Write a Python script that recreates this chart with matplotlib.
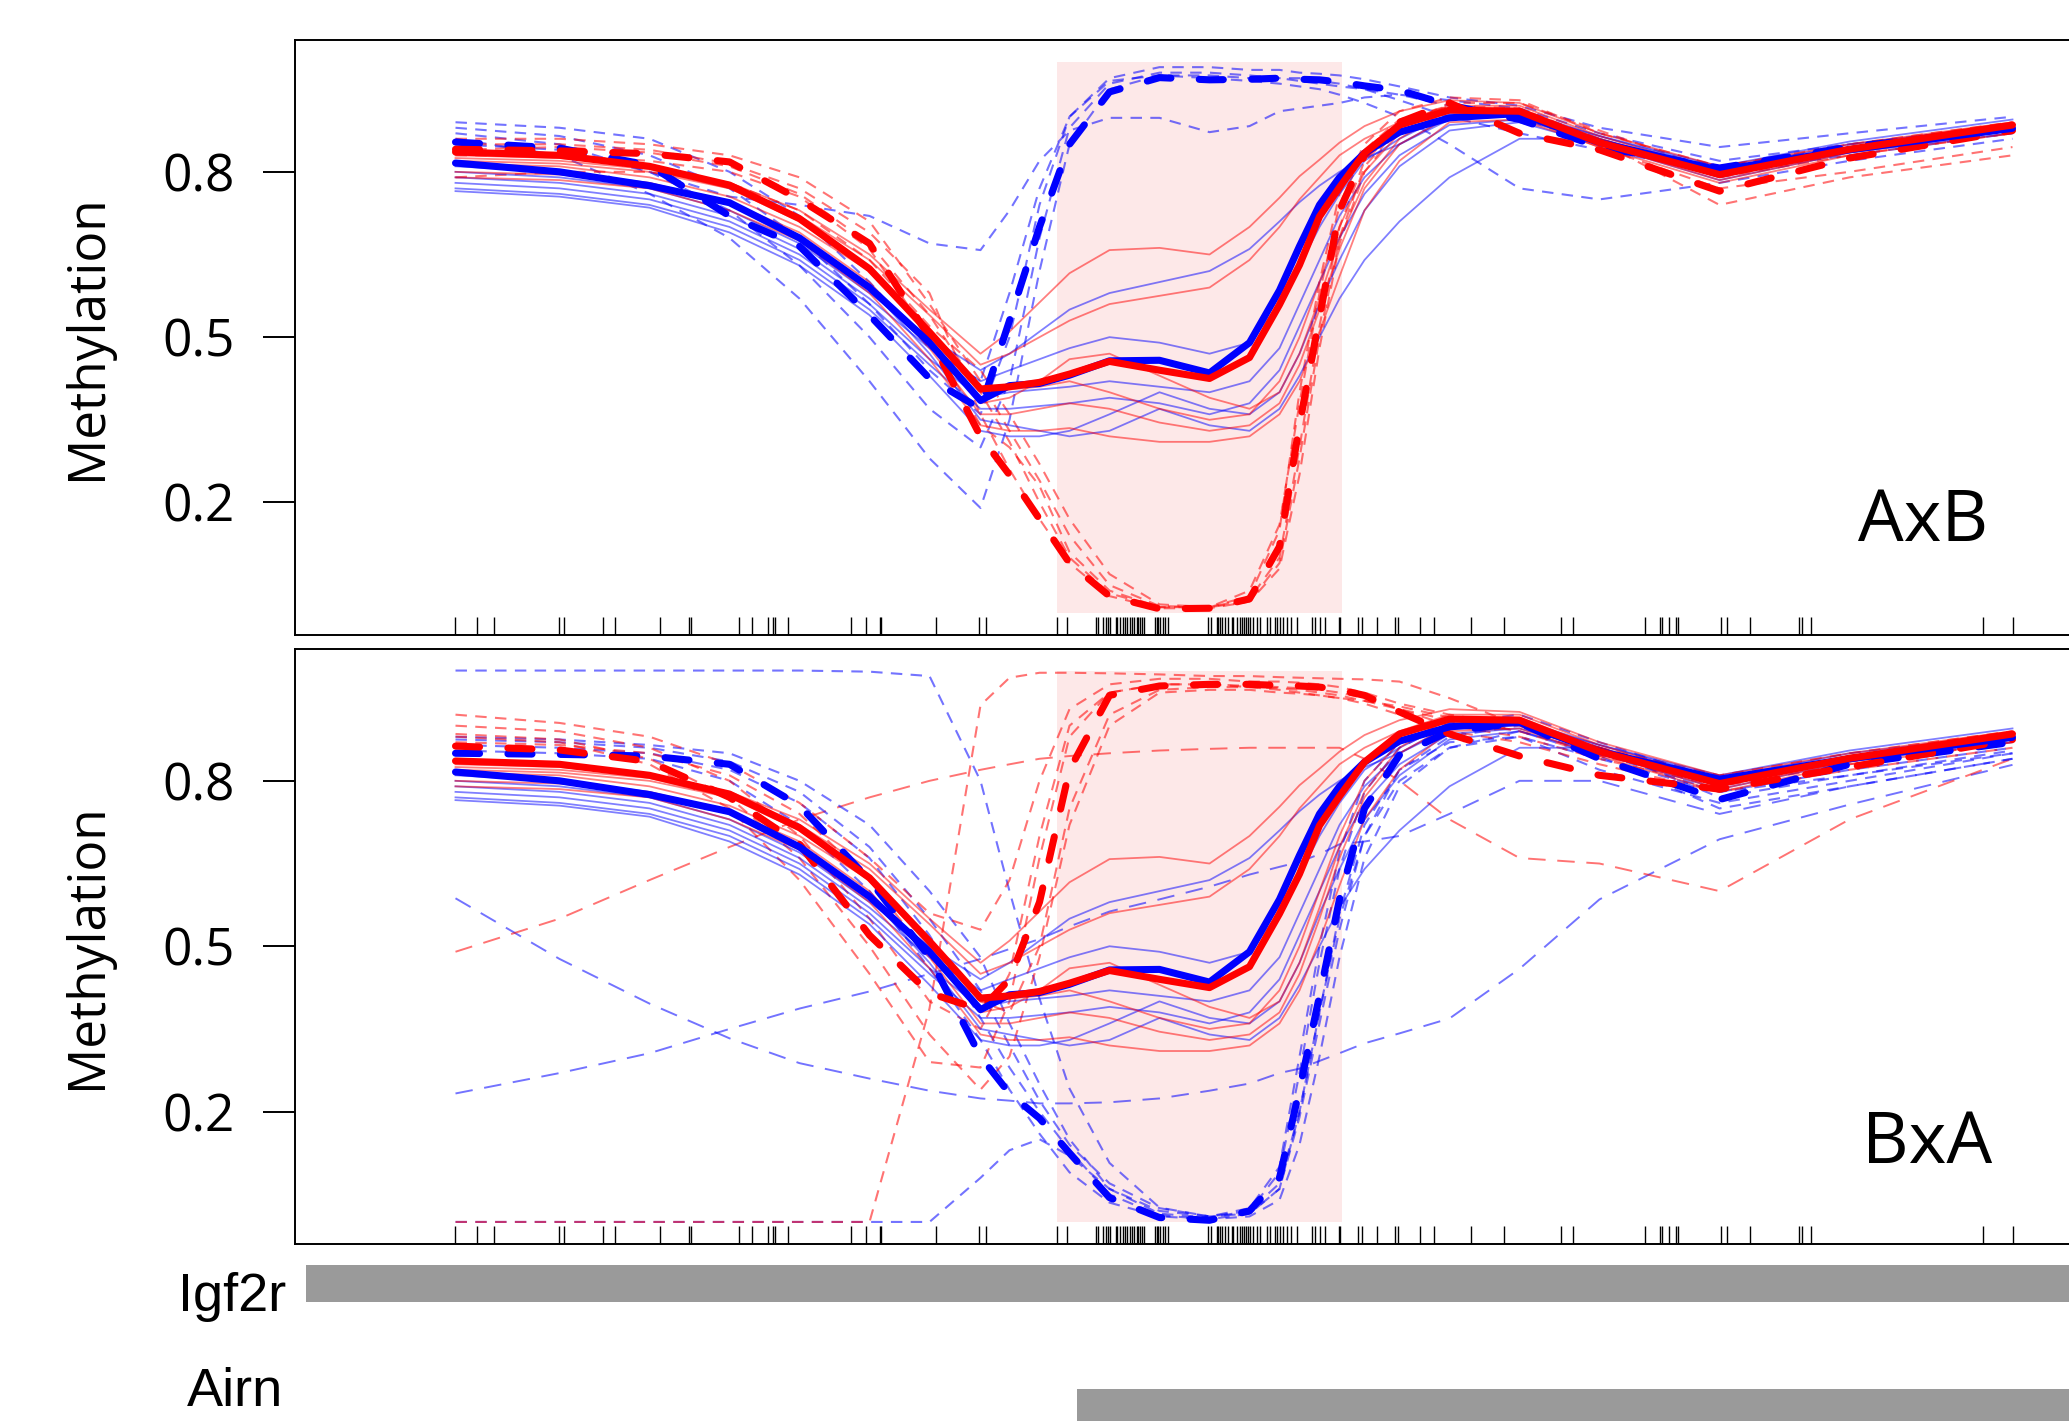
import matplotlib
matplotlib.use("Agg")
import matplotlib.pyplot as plt
import matplotlib.transforms as mtransforms
from matplotlib.patches import Rectangle

# ---------------------------------------------------------------------------
# Data: smoothed methylation along the Igf2r / Airn region (bp offsets)
# ---------------------------------------------------------------------------
POS = [160, 264, 354, 434, 504, 574, 634, 685, 714, 744, 774, 814, 864, 914,
       954, 984, 1004, 1024, 1044, 1069, 1104, 1154, 1224, 1304, 1424, 1554, 1717]

# CpG sites (rug)
CPG = [160, 182, 199, 263, 268, 307, 319, 364, 393, 395, 443, 456, 472, 477, 479,
       492, 555, 570, 584, 585, 640, 683, 690, 761, 771,
       800, 802, 807, 810, 812, 814, 820, 821, 824, 827, 829, 831, 834, 836, 838,
       841, 842, 844, 846, 848,
       859, 861, 862, 864, 867, 869, 872,
       912, 915, 921, 922, 924, 926, 929, 932, 936, 937, 941, 944, 946, 948, 950,
       952, 954, 957, 961, 964, 971, 974, 979, 981, 984, 987, 991, 995, 1001,
       1016, 1019, 1024, 1029, 1043, 1044, 1062, 1066, 1081, 1099, 1102,
       1124, 1138, 1175, 1208, 1265, 1277, 1349, 1364, 1366, 1373, 1380, 1382,
       1425, 1431, 1454, 1503, 1506, 1515, 1687, 1717]

DMR = (761, 1046)

GENES = ["Igf2r", "Airn"]
GENE_START = [11, 781]
GENE_END = [1900, 1900]

# Reference (solid) samples, shared by both crosses
RED_MEAN = [0.836, 0.83, 0.81, 0.776, 0.715, 0.624, 0.509, 0.406, 0.41, 0.418,
            0.433, 0.456, 0.44, 0.425, 0.463, 0.559, 0.631, 0.719, 0.772, 0.834,
            0.885, 0.912, 0.91, 0.853, 0.795, 0.841, 0.885]
BLUE_MEAN = [0.816, 0.80, 0.775, 0.744, 0.68, 0.59, 0.49, 0.385, 0.412, 0.416,
             0.431, 0.457, 0.458, 0.435, 0.49, 0.585, 0.665, 0.74, 0.79, 0.834,
             0.872, 0.898, 0.906, 0.853, 0.803, 0.84, 0.879]

RED_SAMPLES = [
    [0.83, 0.825, 0.81, 0.78, 0.73, 0.65, 0.55, 0.47, 0.51, 0.563, 0.616, 0.658, 0.662, 0.65,
     0.70, 0.753, 0.792, 0.822, 0.853, 0.883, 0.91, 0.93, 0.925, 0.87, 0.81, 0.85, 0.89],
    [0.82, 0.815, 0.80, 0.77, 0.72, 0.64, 0.54, 0.45, 0.47, 0.50, 0.53, 0.56, 0.575, 0.59,
     0.64, 0.70, 0.75, 0.79, 0.83, 0.86, 0.89, 0.92, 0.92, 0.865, 0.80, 0.845, 0.885],
    [0.815, 0.81, 0.79, 0.755, 0.70, 0.62, 0.51, 0.40, 0.405, 0.41, 0.42, 0.40, 0.37, 0.35,
     0.36, 0.42, 0.50, 0.60, 0.70, 0.80, 0.87, 0.91, 0.91, 0.86, 0.79, 0.84, 0.88],
    [0.80, 0.795, 0.78, 0.745, 0.69, 0.60, 0.48, 0.36, 0.36, 0.37, 0.38, 0.37, 0.345, 0.33,
     0.34, 0.38, 0.45, 0.55, 0.66, 0.77, 0.85, 0.90, 0.90, 0.85, 0.785, 0.835, 0.875],
    [0.79, 0.785, 0.77, 0.73, 0.675, 0.58, 0.46, 0.34, 0.33, 0.33, 0.335, 0.32, 0.31, 0.31,
     0.32, 0.36, 0.42, 0.51, 0.61, 0.73, 0.82, 0.89, 0.895, 0.845, 0.78, 0.83, 0.87],
    [0.825, 0.82, 0.805, 0.77, 0.71, 0.62, 0.50, 0.38, 0.39, 0.42, 0.46, 0.47, 0.43, 0.39,
     0.37, 0.40, 0.47, 0.57, 0.68, 0.78, 0.86, 0.915, 0.915, 0.86, 0.795, 0.84, 0.885],
]
BLUE_SAMPLES = [
    [0.80, 0.79, 0.77, 0.73, 0.67, 0.58, 0.50, 0.44, 0.47, 0.51, 0.55, 0.58, 0.60, 0.62,
     0.66, 0.71, 0.745, 0.775, 0.80, 0.825, 0.85, 0.895, 0.905, 0.865, 0.81, 0.855, 0.895],
    [0.79, 0.78, 0.76, 0.72, 0.66, 0.57, 0.48, 0.42, 0.44, 0.46, 0.48, 0.50, 0.49, 0.47,
     0.49, 0.56, 0.63, 0.70, 0.76, 0.82, 0.86, 0.905, 0.91, 0.865, 0.805, 0.85, 0.885],
    [0.78, 0.77, 0.75, 0.71, 0.65, 0.56, 0.46, 0.39, 0.40, 0.405, 0.41, 0.42, 0.41, 0.40,
     0.42, 0.48, 0.56, 0.64, 0.72, 0.79, 0.85, 0.90, 0.905, 0.86, 0.80, 0.845, 0.88],
    [0.77, 0.76, 0.74, 0.70, 0.64, 0.55, 0.45, 0.37, 0.37, 0.375, 0.38, 0.39, 0.38, 0.36,
     0.38, 0.44, 0.52, 0.60, 0.68, 0.76, 0.83, 0.885, 0.895, 0.855, 0.79, 0.84, 0.875],
    [0.765, 0.755, 0.735, 0.69, 0.63, 0.54, 0.43, 0.33, 0.32, 0.32, 0.33, 0.36, 0.40, 0.37,
     0.36, 0.40, 0.47, 0.56, 0.64, 0.73, 0.81, 0.875, 0.89, 0.85, 0.785, 0.835, 0.87],
    [0.81, 0.80, 0.78, 0.74, 0.68, 0.59, 0.47, 0.35, 0.34, 0.33, 0.32, 0.33, 0.37, 0.34,
     0.33, 0.37, 0.43, 0.50, 0.57, 0.64, 0.71, 0.79, 0.86, 0.86, 0.80, 0.84, 0.875],
]

# AxB cross: allele-specific (dashed) profiles
AXB_RED_MEAN = [0.841, 0.838, 0.833, 0.818, 0.75, 0.67, 0.50, 0.32, 0.25, 0.17,
                0.09, 0.03, 0.007, 0.008, 0.025, 0.12, 0.341, 0.536, 0.73, 0.83,
                0.89, 0.925, 0.87, 0.84, 0.765, 0.825, 0.875]
AXB_BLUE_MEAN = [0.854, 0.843, 0.812, 0.72, 0.665, 0.54, 0.425, 0.37, 0.53, 0.70,
                 0.85, 0.945, 0.971, 0.967, 0.968, 0.97, 0.968, 0.967, 0.963, 0.956,
                 0.948, 0.921, 0.895, 0.845, 0.807, 0.845, 0.879]
AXB_RED_ALLELES = [
    [0.86, 0.86, 0.85, 0.83, 0.79, 0.71, 0.56, 0.42, 0.33, 0.24, 0.14, 0.05, 0.012, 0.01,
     0.03, 0.15, 0.40, 0.60, 0.76, 0.85, 0.91, 0.935, 0.93, 0.87, 0.81, 0.85, 0.89],
    [0.85, 0.85, 0.84, 0.815, 0.77, 0.69, 0.58, 0.36, 0.26, 0.17, 0.09, 0.03, 0.008, 0.008,
     0.02, 0.08, 0.25, 0.48, 0.67, 0.80, 0.88, 0.92, 0.915, 0.86, 0.79, 0.83, 0.87],
    [0.83, 0.83, 0.82, 0.80, 0.755, 0.66, 0.50, 0.34, 0.30, 0.23, 0.11, 0.04, 0.01, 0.01,
     0.025, 0.10, 0.30, 0.52, 0.70, 0.82, 0.88, 0.91, 0.90, 0.845, 0.77, 0.80, 0.845],
    [0.79, 0.80, 0.80, 0.78, 0.73, 0.64, 0.52, 0.44, 0.36, 0.27, 0.17, 0.07, 0.015, 0.01,
     0.04, 0.16, 0.38, 0.58, 0.74, 0.84, 0.895, 0.92, 0.91, 0.855, 0.74, 0.79, 0.83],
    [0.84, 0.845, 0.835, 0.81, 0.76, 0.67, 0.54, 0.40, 0.31, 0.20, 0.10, 0.035, 0.01, 0.01,
     0.02, 0.09, 0.28, 0.50, 0.68, 0.81, 0.88, 0.925, 0.925, 0.875, 0.80, 0.84, 0.88],
]
AXB_BLUE_ALLELES = [
    [0.89, 0.88, 0.86, 0.80, 0.72, 0.60, 0.48, 0.42, 0.58, 0.77, 0.90, 0.97, 0.99, 0.99,
     0.985, 0.985, 0.98, 0.978, 0.975, 0.968, 0.955, 0.935, 0.92, 0.88, 0.845, 0.87, 0.90],
    [0.85, 0.84, 0.80, 0.755, 0.74, 0.72, 0.67, 0.658, 0.73, 0.82, 0.875, 0.898, 0.898, 0.872,
     0.883, 0.91, 0.915, 0.92, 0.925, 0.935, 0.94, 0.93, 0.915, 0.87, 0.82, 0.85, 0.885],
    [0.86, 0.83, 0.76, 0.68, 0.57, 0.42, 0.28, 0.19, 0.35, 0.62, 0.85, 0.95, 0.975, 0.975,
     0.97, 0.97, 0.965, 0.96, 0.955, 0.95, 0.93, 0.90, 0.87, 0.84, 0.80, 0.83, 0.87],
    [0.87, 0.85, 0.80, 0.73, 0.63, 0.50, 0.37, 0.30, 0.42, 0.68, 0.88, 0.96, 0.98, 0.98,
     0.975, 0.97, 0.97, 0.965, 0.96, 0.95, 0.94, 0.92, 0.90, 0.85, 0.81, 0.845, 0.88],
    [0.88, 0.865, 0.83, 0.77, 0.68, 0.56, 0.44, 0.36, 0.50, 0.74, 0.90, 0.965, 0.975, 0.97,
     0.965, 0.96, 0.955, 0.95, 0.94, 0.925, 0.90, 0.85, 0.77, 0.75, 0.78, 0.82, 0.86],
]

# BxA cross: allele-specific (dashed) profiles
BXA_RED_MEAN = [0.863, 0.856, 0.835, 0.77, 0.685, 0.52, 0.415, 0.385, 0.44, 0.58,
                0.82, 0.955, 0.972, 0.975, 0.975, 0.973, 0.972, 0.97, 0.965, 0.955,
                0.925, 0.885, 0.845, 0.81, 0.785, 0.825, 0.875]
BXA_BLUE_MEAN = [0.85, 0.848, 0.845, 0.83, 0.755, 0.62, 0.48, 0.30, 0.233, 0.188,
                 0.125, 0.044, 0.008, 0.003, 0.02, 0.08, 0.24, 0.41, 0.585, 0.75,
                 0.847, 0.89, 0.905, 0.84, 0.766, 0.83, 0.87]
BXA_RED_ALLELES = [
    [0.92, 0.905, 0.88, 0.83, 0.76, 0.66, 0.56, 0.53, 0.62, 0.80, 0.93, 0.975, 0.985, 0.985,
     0.98, 0.98, 0.978, 0.975, 0.97, 0.96, 0.94, 0.92, 0.90, 0.86, 0.81, 0.85, 0.89],
    [0.90, 0.89, 0.86, 0.80, 0.70, 0.55, 0.40, 0.35, 0.45, 0.70, 0.90, 0.96, 0.975, 0.975,
     0.972, 0.97, 0.968, 0.965, 0.96, 0.95, 0.93, 0.90, 0.88, 0.84, 0.79, 0.83, 0.87],
    [0.88, 0.87, 0.83, 0.75, 0.62, 0.45, 0.29, 0.28, 0.40, 0.66, 0.88, 0.96, 0.975, 0.975,
     0.97, 0.965, 0.96, 0.955, 0.95, 0.94, 0.92, 0.89, 0.87, 0.83, 0.78, 0.82, 0.86],
    [0.87, 0.865, 0.85, 0.81, 0.74, 0.62, 0.48, 0.40, 0.38, 0.50, 0.75, 0.92, 0.965, 0.97,
     0.97, 0.968, 0.965, 0.96, 0.955, 0.945, 0.93, 0.91, 0.89, 0.85, 0.80, 0.84, 0.88],
    [0.885, 0.875, 0.84, 0.77, 0.66, 0.50, 0.34, 0.24, 0.30, 0.48, 0.72, 0.90, 0.96, 0.965,
     0.965, 0.96, 0.958, 0.955, 0.95, 0.945, 0.935, 0.915, 0.89, 0.845, 0.80, 0.835, 0.875],
    [0.0, 0.0, 0.0, 0.0, 0.0, 0.0, 0.387, 0.937, 0.987, 0.996, 0.996, 0.995, 0.993, 0.99,
     0.99, 0.988, 0.987, 0.986, 0.985, 0.984, 0.98, 0.95, 0.90, 0.86, 0.80, 0.84, 0.88],
]
BXA_BLUE_ALLELES = [
    [0.88, 0.875, 0.865, 0.85, 0.80, 0.72, 0.60, 0.48, 0.36, 0.25, 0.15, 0.06, 0.015, 0.008,
     0.02, 0.09, 0.27, 0.47, 0.64, 0.78, 0.86, 0.905, 0.92, 0.87, 0.80, 0.84, 0.88],
    [0.865, 0.86, 0.85, 0.82, 0.76, 0.66, 0.52, 0.37, 0.28, 0.20, 0.13, 0.05, 0.012, 0.005,
     0.015, 0.06, 0.19, 0.36, 0.53, 0.70, 0.82, 0.88, 0.90, 0.85, 0.78, 0.82, 0.86],
    [0.875, 0.87, 0.86, 0.835, 0.78, 0.68, 0.55, 0.42, 0.32, 0.22, 0.14, 0.07, 0.025, 0.01,
     0.025, 0.10, 0.30, 0.50, 0.67, 0.80, 0.87, 0.90, 0.91, 0.86, 0.77, 0.81, 0.855],
    [0.855, 0.85, 0.84, 0.80, 0.72, 0.60, 0.46, 0.33, 0.24, 0.16, 0.09, 0.035, 0.01, 0.005,
     0.01, 0.04, 0.14, 0.30, 0.48, 0.66, 0.79, 0.86, 0.89, 0.845, 0.75, 0.79, 0.84],
    [0.0, 0.0, 0.0, 0.0, 0.0, 0.0, 0.0, 0.08, 0.13, 0.15, 0.12, 0.06, 0.02, 0.01,
     0.02, 0.07, 0.20, 0.38, 0.55, 0.70, 0.80, 0.86, 0.88, 0.84, 0.78, 0.81, 0.85],
    [1.0, 1.0, 1.0, 1.0, 1.0, 0.998, 0.99, 0.80, 0.60, 0.405, 0.242, 0.107, 0.026, 0.01,
     0.015, 0.06, 0.20, 0.38, 0.56, 0.72, 0.82, 0.87, 0.88, 0.82, 0.76, 0.80, 0.85],
]
# BxA samples drawn with long dashes
BXA_RED_LONG = [
    [0.49, 0.55, 0.62, 0.68, 0.73, 0.77, 0.80, 0.82, 0.83, 0.84, 0.845, 0.85, 0.855, 0.858,
     0.86, 0.86, 0.86, 0.86, 0.86, 0.84, 0.80, 0.73, 0.66, 0.65, 0.60, 0.73, 0.84],
]
BXA_BLUE_LONG = [
    [0.587, 0.477, 0.396, 0.333, 0.288, 0.26, 0.238, 0.224, 0.22, 0.215, 0.215, 0.217, 0.224,
     0.238, 0.251, 0.27, 0.278, 0.292, 0.306, 0.324, 0.342, 0.369, 0.459, 0.585, 0.694,
     0.757, 0.829],
    [0.233, 0.27, 0.306, 0.35, 0.387, 0.418, 0.45, 0.477, 0.495, 0.513, 0.536, 0.563, 0.585,
     0.608, 0.63, 0.644, 0.653, 0.667, 0.685, 0.69, 0.70, 0.74, 0.80, 0.80, 0.74, 0.79, 0.84],
]

# ---------------------------------------------------------------------------
# Figure
# ---------------------------------------------------------------------------
W, H, DPI = 2069, 1421, 100
RED, BLUE = "#ff0000", "#0000ff"
PINK = "#fde8e8"
TEXT_FONT = ["Open Sans", "DejaVu Sans"]
GENE_FONT = ["Liberation Sans", "DejaVu Sans"]

fig = plt.figure(figsize=(W / DPI, H / DPI), dpi=DPI)
fig.patch.set_facecolor("white")


def box(left, top, width, height):
    return [left / W, 1 - (top + height) / H, width / W, height / H]


THIN_DASH = (0, (5.5, 4.0))
LONG_DASH = (0, (9.0, 6.0))
THICK_DASH = (0, (3.4, 4.0))
THICK_LW = 5.1


def draw_panel(ax, red_alleles, blue_alleles, red_long, blue_long,
               red_mean_allele, blue_mean_allele):
    ax.set_xlim(0, 1800)
    ax.set_ylim(-0.04, 1.04)
    ax.add_patch(Rectangle((DMR[0], 0), DMR[1] - DMR[0], 1, facecolor=PINK,
                           edgecolor="none", zorder=0))

    for ys in blue_long:
        ax.plot(POS, ys, color=BLUE, alpha=0.55, lw=1.4, ls=LONG_DASH, zorder=1)
    for ys in red_long:
        ax.plot(POS, ys, color=RED, alpha=0.55, lw=1.4, ls=LONG_DASH, zorder=1)
    for ys in blue_alleles:
        ax.plot(POS, ys, color=BLUE, alpha=0.55, lw=1.5, ls=THIN_DASH, zorder=2)
    for ys in red_alleles:
        ax.plot(POS, ys, color=RED, alpha=0.55, lw=1.5, ls=THIN_DASH, zorder=2)
    for ys in BLUE_SAMPLES:
        ax.plot(POS, ys, color=BLUE, alpha=0.5, lw=1.3, zorder=3)
    for ys in RED_SAMPLES:
        ax.plot(POS, ys, color=RED, alpha=0.5, lw=1.3, zorder=3)

    ax.plot(POS, blue_mean_allele, color=BLUE, lw=THICK_LW, ls=THICK_DASH,
            dash_capstyle="round", zorder=4)
    ax.plot(POS, red_mean_allele, color=RED, lw=THICK_LW, ls=THICK_DASH,
            dash_capstyle="round", zorder=4)
    ax.plot(POS, BLUE_MEAN, color=BLUE, lw=THICK_LW, solid_capstyle="round",
            solid_joinstyle="round", zorder=5)
    ax.plot(POS, RED_MEAN, color=RED, lw=THICK_LW, solid_capstyle="round",
            solid_joinstyle="round", zorder=5)

    # CpG rug along the bottom
    rug_tf = mtransforms.blended_transform_factory(ax.transData, ax.transAxes)
    ax.vlines(CPG, 0, 0.03, transform=rug_tf, color="black", lw=1.0, zorder=6)

    ax.set_xticks([])
    ax.set_yticks([0.2, 0.5, 0.8])
    ax.set_yticklabels(["0.2", "0.5", "0.8"])
    ax.tick_params(axis="y", length=22.8, width=1.4, pad=20.9, labelsize=37)
    for lab in ax.get_yticklabels():
        lab.set_fontfamily(TEXT_FONT)
    for sp in ax.spines.values():
        sp.set_linewidth(1.4)


ax_top = fig.add_axes(box(295.5, 39.6, 1800, 595.1))
ax_bot = fig.add_axes(box(295.5, 648.5, 1800, 595.5))

draw_panel(ax_top, AXB_RED_ALLELES, AXB_BLUE_ALLELES, [], [],
           AXB_RED_MEAN, AXB_BLUE_MEAN)
draw_panel(ax_bot, BXA_RED_ALLELES, BXA_BLUE_ALLELES, BXA_RED_LONG, BXA_BLUE_LONG,
           BXA_RED_MEAN, BXA_BLUE_MEAN)

# y-axis titles and panel names
for ax in (ax_top, ax_bot):
    bb = ax.get_position()
    fig.text(87 / W, (bb.y0 + bb.y1) / 2, "Methylation", rotation=90,
             ha="center", va="center", fontsize=37, fontfamily=TEXT_FONT)
fig.text(1858 / W, 1 - 541 / H, "AxB", ha="left", va="baseline",
         fontsize=52, fontfamily=TEXT_FONT)
fig.text(1862 / W, 1 - 1163 / H, "BxA", ha="left", va="baseline",
         fontsize=52, fontfamily=TEXT_FONT)

# gene annotation track
gene_tf = mtransforms.blended_transform_factory(ax_bot.transData, fig.transFigure)
track_y = [(1 - 1302.3 / H, 37.3 / H), (1 - 1430 / H, 40.7 / H)]
label_base = [1 - 1310.7 / H, 1 - 1406 / H]
label_x = [286 / W, 283 / W]
for name, start, end, (y0, h), by, lx in zip(GENES, GENE_START, GENE_END,
                                              track_y, label_base, label_x):
    rect = Rectangle((start, y0), end - start, h, transform=gene_tf,
                     facecolor="#9a9a9a", edgecolor="none", clip_on=False)
    ax_bot.add_patch(rect)
    fig.text(lx, by, name, ha="right", va="baseline", fontsize=39,
             fontfamily=GENE_FONT)

fig.savefig("out.png", dpi=DPI, facecolor="white")
